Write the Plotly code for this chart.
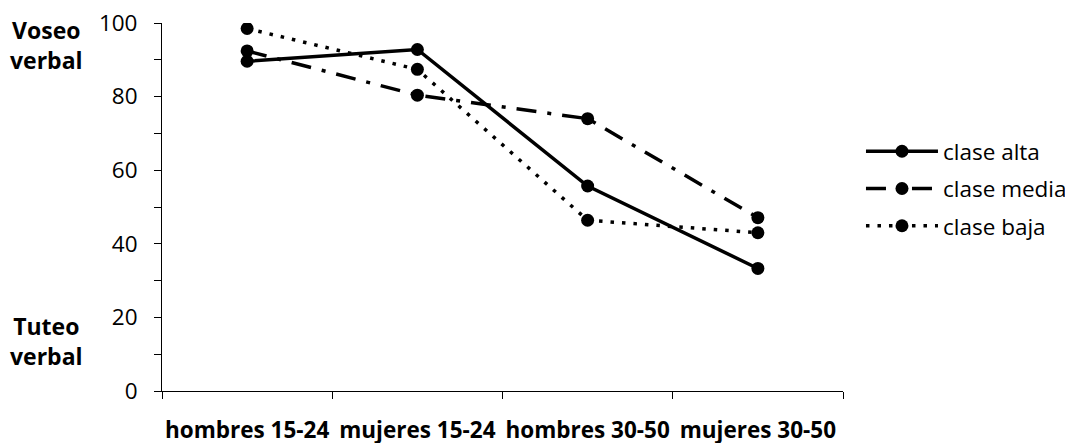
import plotly.graph_objects as go

categories = ["hombres 15-24", "mujeres 15-24", "hombres 30-50", "mujeres 30-50"]
clase_alta = [89.6, 92.8, 55.7, 33.3]
clase_media = [92.4, 80.4, 74.0, 47.1]
clase_baja = [98.5, 87.4, 46.4, 43.0]

series = [
    ("clase alta", clase_alta, "solid"),
    ("clase media", clase_media, "20px,11px,4px,11px"),
    ("clase baja", clase_baja, "3.5px,8px"),
]

FONT = "Open Sans"
W, H = 1090, 443
OFF = 8  # page body margin
L, R, T, B = 162 - OFF, W - (843 - OFF), 23 - OFF, H - (391 - OFF)

fig = go.Figure()
for name, vals, dash in series:
    fig.add_trace(go.Scatter(
        x=categories, y=vals, name=name, mode="lines+markers", legendgroup=name,
        line=dict(color="black", width=3.5, dash=dash),
        marker=dict(color="black", size=13, symbol="circle"),
    ))

fig.update_layout(
    width=W, height=H,
    margin=dict(l=L, r=R, t=T, b=B),
    paper_bgcolor="white", plot_bgcolor="white",
    font=dict(family=FONT, size=23, color="black"),
    showlegend=True,
    legend=dict(x=1.0264, y=0.55, xanchor="left", yanchor="middle",
                font=dict(family=FONT, size=22.5, color="black"),
                tracegroupgap=5, itemwidth=72, bgcolor="rgba(0,0,0,0)"),
)
fig.update_xaxes(
    type="category", tickson="boundaries", showline=True, linecolor="black", linewidth=1,
    ticks="outside", ticklen=7, tickcolor="black", showgrid=False, zeroline=False,
    tickfont=dict(family=FONT, size=22.5, color="black", weight="bold"),
    tickangle=0, ticklabelstandoff=19, range=[-0.5, 3.5], automargin=False,
    ticklabeloverflow="allow",
)
fig.update_yaxes(
    range=[0, 100], dtick=20, showline=True, linecolor="black", linewidth=1,
    ticks="outside", ticklen=7, tickcolor="black", showgrid=False, zeroline=False,
    tickfont=dict(family=FONT, size=22.5, color="black"),
    ticklabelstandoff=12, automargin=False, ticklabeloverflow="allow",
    minor=dict(dtick=10, ticks="outside", ticklen=7, tickcolor="black", showgrid=False),
)
for txt, y in [("Voseo<br>verbal", 0.939), ("Tuteo<br>verbal", 0.135)]:
    fig.add_annotation(text="<b>" + txt + "</b>", xref="paper", yref="paper",
                       x=-0.169, y=y, xanchor="center", yanchor="middle", showarrow=False,
                       align="center", font=dict(family=FONT, size=23, color="black"))

fig.write_html("out.html")
